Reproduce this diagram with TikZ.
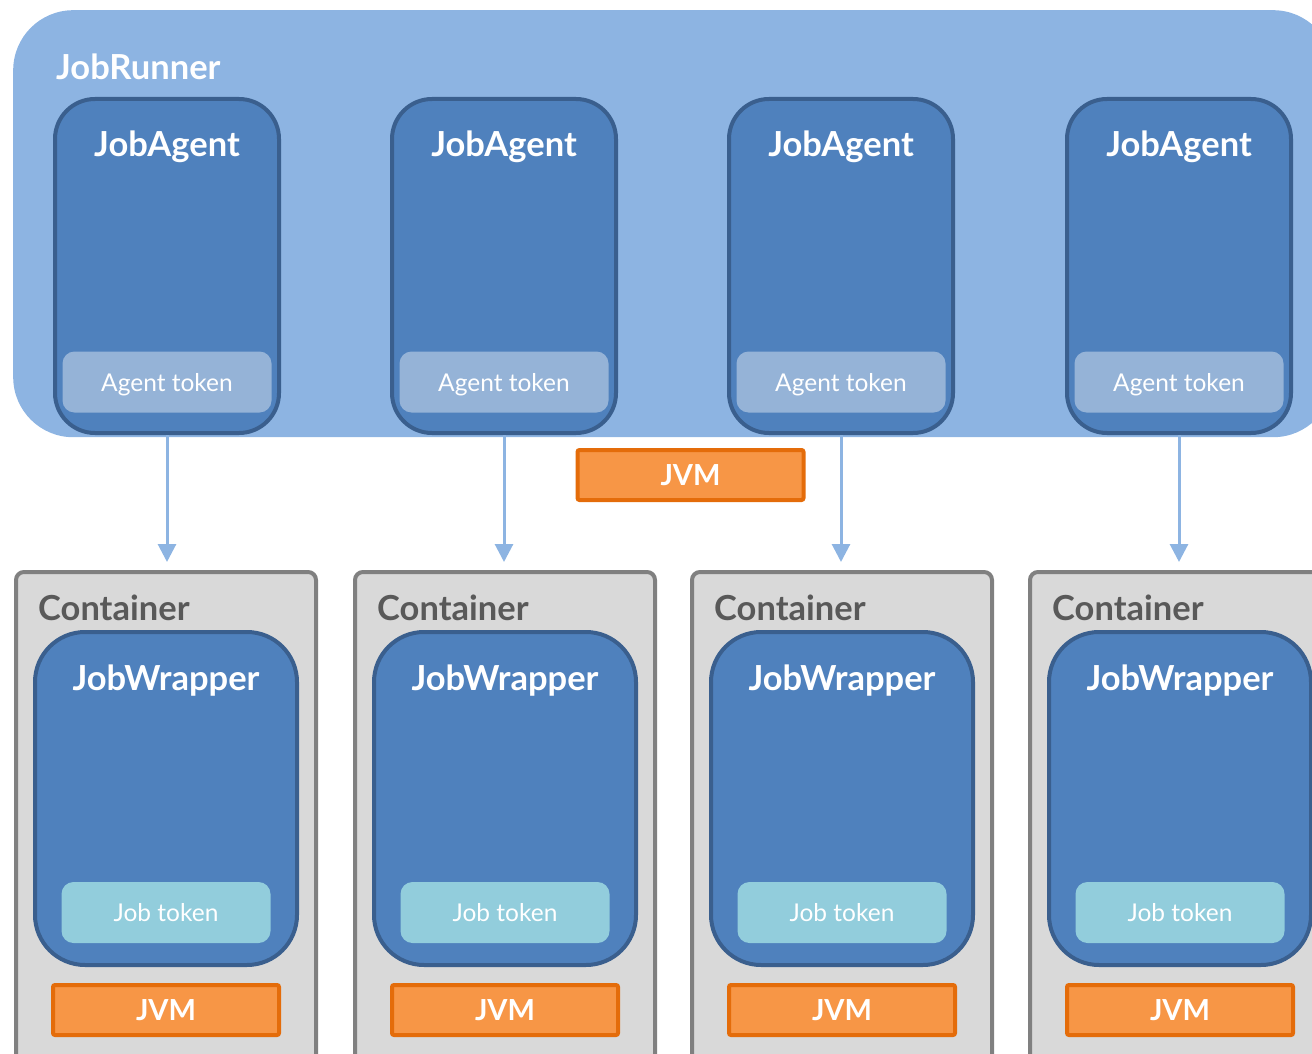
\documentclass[tikz,border=0pt]{standalone}
\usepackage{fontspec}
\setmainfont{Lato}
\usepackage{xcolor}
\usepackage{tikz}
\usetikzlibrary{arrows.meta, positioning}

\definecolor{runnerblue}{HTML}{8DB4E2}
\definecolor{agentblue}{HTML}{4F81BD}
\definecolor{agentline}{HTML}{3A5F8E}
\definecolor{agtokenblue}{HTML}{95B3D7}
\definecolor{jobtokenblue}{HTML}{92CDDC}
\definecolor{jvmfill}{HTML}{F79646}
\definecolor{jvmline}{HTML}{E46C0A}
\definecolor{contfill}{HTML}{D9D9D9}
\definecolor{contline}{HTML}{808080}
\definecolor{conttext}{HTML}{595959}

\begin{document}
\begin{tikzpicture}[
    x=1pt, y=-1pt,
    runner/.style={rectangle, rounded corners=60pt, fill=runnerblue, minimum width=1320pt, minimum height=427pt, anchor=north west, inner sep=0pt},
    agent/.style={rectangle, rounded corners=40pt, draw=agentline, fill=agentblue, line width=4pt, minimum width=224pt, minimum height=334pt, anchor=north west, inner sep=0pt},
    wrapper/.style={rectangle, rounded corners=50pt, draw=agentline, fill=agentblue, line width=4pt, minimum width=262pt, minimum height=333pt, anchor=north west, inner sep=0pt},
    container/.style={rectangle, rounded corners=8pt, draw=contline, fill=contfill, line width=4pt, minimum width=300pt, minimum height=500pt, anchor=north west, inner sep=0pt},
    agtoken/.style={rectangle, rounded corners=12pt, fill=agtokenblue, minimum width=209pt, minimum height=61pt, inner sep=0pt, text depth=0pt, text=white, font=\fontsize{24.5}{28}\selectfont},
    jobtoken/.style={agtoken, fill=jobtokenblue},
    jvm/.style={rectangle, rounded corners=2pt, draw=jvmline, fill=jvmfill, line width=4pt, minimum width=226pt, minimum height=50pt, inner sep=0pt, text depth=0pt, text=white, font=\fontsize{29}{34}\selectfont\bfseries},
    ttl/.style={anchor=base, inner sep=0pt, text=white, font=\fontsize{34.5}{40}\selectfont\bfseries},
    arrow/.style={-{Triangle[length=18pt,width=18pt]}, line width=3pt, runnerblue}
]
\useasboundingbox (0,0) rectangle (1312,1054);

\node[runner] (runner) at (13,10) {};
\node[ttl, anchor=base west] (runnerT) at (56,80) {JobRunner};
\node[jvm] (jvm0) at (690.5,475) {JVM};

\foreach \i/\ax/\cx in {1/53/14, 2/390/353, 3/727/690, 4/1065/1028} {
    % agent side
    \node[agent] (agent\i) at (\ax,97) {};
    \node[ttl] (agentT\i) at (\ax+114,157) {JobAgent};
    \node[agtoken] (agtok\i) at (\ax+114,382) {Agent token};
    % container side
    \node[container] (cont\i) at (\cx,570) {};
    \node[ttl, anchor=base west, text=conttext] (contT\i) at (\cx+24,620) {Container};
    \node[wrapper] (wrap\i) at (\cx+19,630) {};
    \node[ttl] (wrapT\i) at (\cx+152,690) {JobWrapper};
    \node[jobtoken] (jobtok\i) at (\cx+152,912.5) {Job token};
    \node[jvm] (jvm\i) at (\cx+152,1010) {JVM};
    \draw[arrow, shorten >=8pt] (agent\i.south) -- (agent\i.south |- cont\i.north);
}

\end{tikzpicture}
\end{document}
